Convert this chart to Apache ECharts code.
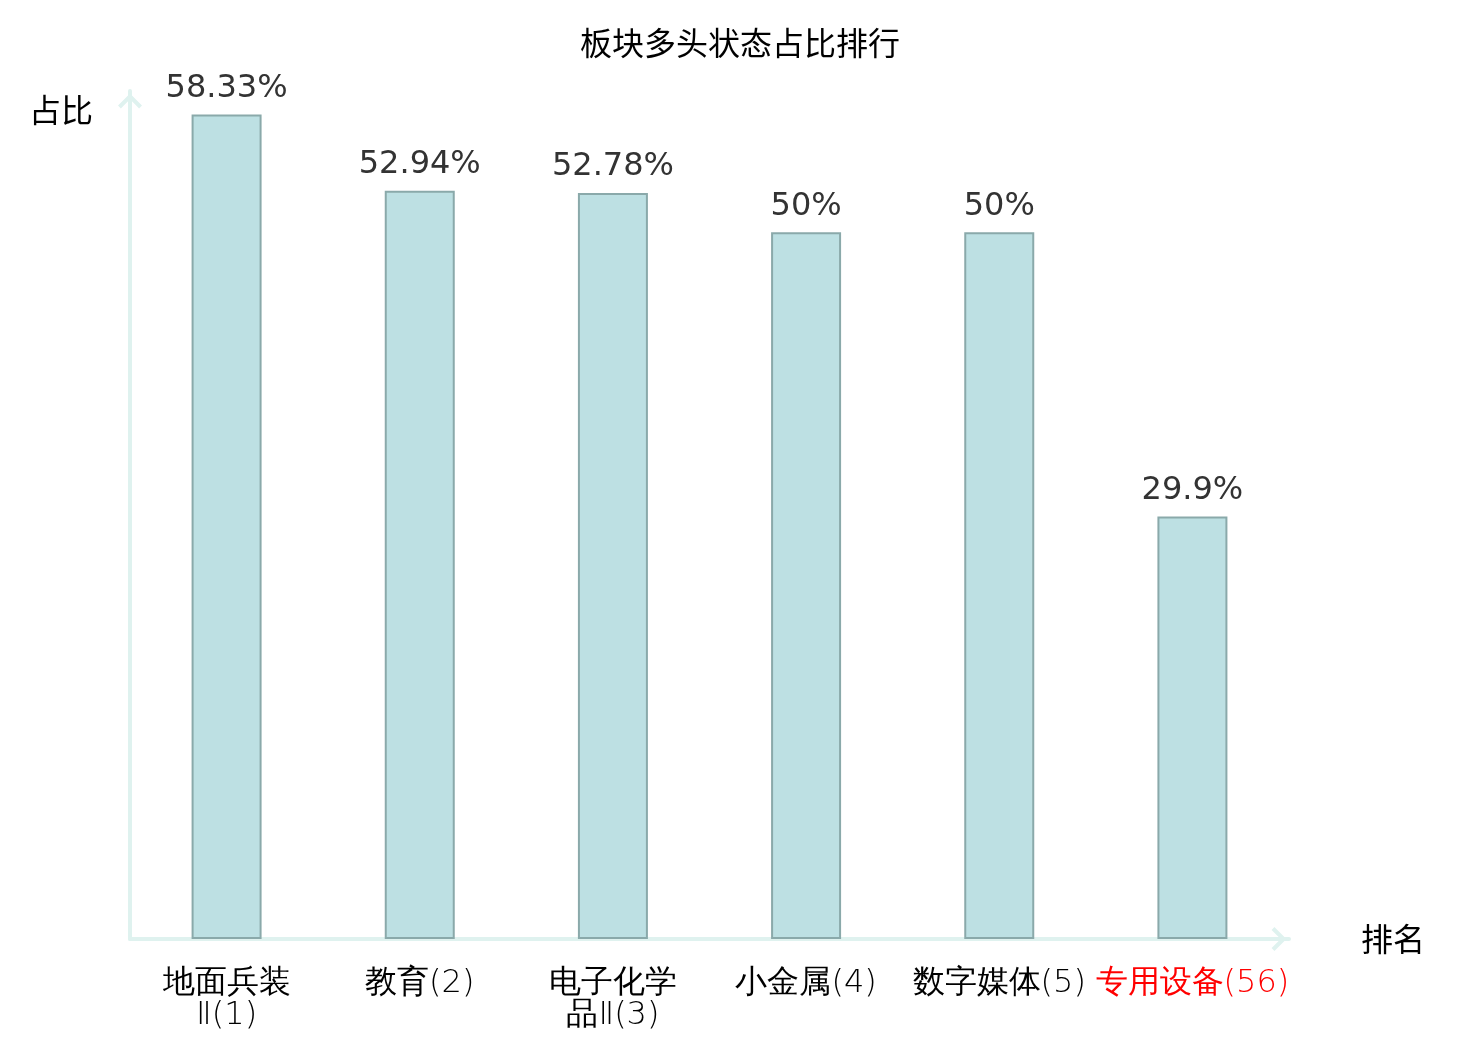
<!DOCTYPE html>
<html>
<head>
<meta charset="utf-8">
<title>板块多头状态占比排行</title>
<script src="https://cdn.jsdelivr.net/npm/echarts@6/dist/echarts.min.js"></script>
<style>
  html, body { margin: 0; padding: 0; background: #fff; }
  #container { width: 1480px; height: 1040px; }
</style>
</head>
<body>
<div id="container"></div>
<script>
// 数据
var sectorNames = ['地面兵装Ⅱ', '教育', '电子化学品Ⅱ', '小金属', '数字媒体', '专用设备'];
var sectorRanks = [1, 2, 3, 4, 5, 56];
var ratioValues = [58.33, 52.94, 52.78, 50, 50, 29.9];
var highlightIndex = 5; // 标红的板块

var arrowPath = 'path://M50,0 L100,50 L88,62 L50,24 L12,62 L0,50 Z';

// 超过4个字就换行
function wrapName(name, rank) {
    var full = name + '(' + rank + ')';
    if (name.length > 4) {
        return name.slice(0, 4) + '\n' + name.slice(4) + '(' + rank + ')';
    }
    return full;
}

var categories = [];
for (var i = 0; i < sectorNames.length; i++) {
    var item = { value: wrapName(sectorNames[i], sectorRanks[i]) };
    if (i === highlightIndex) {
        item.textStyle = { color: '#ff0000' };
    }
    categories.push(item);
}

var dom = document.getElementById('container');
var myChart = echarts.init(dom);
var option = {
    backgroundColor: '#fff',
    animation: false,
    title: {
        text: '板块多头状态占比排行',
        left: 'center',
        top: 22,
        textStyle: {
            fontFamily: 'Noto Sans CJK SC',
            fontSize: 32,
            fontWeight: 'normal',
            color: '#000'
        }
    },
    grid: {
        left: 130,
        right: 191,
        top: 91,
        bottom: 101
    },
    xAxis: {
        type: 'category',
        data: categories,
        name: '排名',
        nameLocation: 'end',
        nameGap: 72,
        nameTextStyle: {
            fontFamily: 'Noto Sans CJK SC',
            fontSize: 32,
            color: '#000'
        },
        axisLine: {
            show: true,
            symbol: ['none', arrowPath],
            symbolSize: [24, 20],
            symbolOffset: [0, -10],
            lineStyle: { color: '#dff2ef', width: 4 }
        },
        axisTick: { show: false },
        axisLabel: {
            interval: 0,
            margin: 29,
            fontFamily: 'DejaVu Sans',
            fontWeight: 200,
            fontSize: 32,
            lineHeight: 32,
            color: '#000'
        }
    },
    yAxis: {
        type: 'value',
        min: 0,
        max: 60,
        name: '占比',
        nameLocation: 'end',
        nameGap: -19,
        nameTextStyle: {
            fontFamily: 'Noto Sans CJK SC',
            fontSize: 32,
            color: '#000',
            align: 'right',
            verticalAlign: 'middle',
            padding: [0, 37, 0, 0]
        },
        axisLine: {
            show: true,
            symbol: ['none', arrowPath],
            symbolSize: [24, 20],
            symbolOffset: [0, -10],
            lineStyle: { color: '#dff2ef', width: 4 }
        },
        axisTick: { show: false },
        axisLabel: { show: false },
        splitLine: { show: false }
    },
    series: [
        {
            name: '占比',
            type: 'bar',
            data: ratioValues,
            barWidth: 70,
            itemStyle: {
                color: '#bde0e3',
                borderColor: '#8aa9aa',
                borderWidth: 2
            },
            label: {
                show: true,
                position: 'top',
                distance: 10,
                fontFamily: 'DejaVu Sans',
                fontSize: 32,
                color: '#333',
                formatter: function (p) { return p.value + '%'; }
            }
        }
    ]
};
if (option && typeof option === "object") {
    myChart.setOption(option, true);
}
</script>
</body>
</html>
